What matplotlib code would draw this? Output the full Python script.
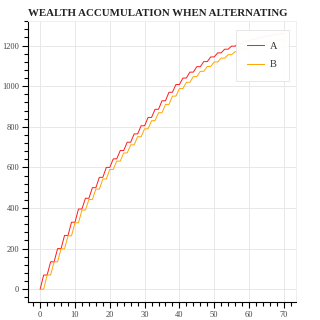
import matplotlib
matplotlib.use('Agg')
import matplotlib.pyplot as plt
from matplotlib.ticker import MultipleLocator
import numpy as np

# Niveles de riqueza: A sube en los pasos impares, B en los pares
a_levels = [70, 135, 200, 265, 330, 395, 448, 500, 551, 600,
            642, 683, 724, 765, 805, 846, 886, 928, 970, 1008,
            1040, 1069, 1096, 1121, 1144, 1164, 1182, 1197, 1210, 1221,
            1231, 1240, 1247, 1253, 1258]
b_levels = [70, 135, 199, 263, 327, 390, 442, 493, 543, 590,
            631, 671, 711, 751, 790, 830, 869, 910, 951, 988,
            1019, 1047, 1073, 1097, 1119, 1138, 1155, 1170, 1183, 1194,
            1204, 1213, 1220, 1226, 1231]
n_steps = 70
title = 'WEALTH ACCUMULATION WHEN ALTERNATING'

steps = np.arange(n_steps + 1)
a_vals = np.concatenate([[0], np.repeat(a_levels, 2)])[:n_steps + 1]
b_vals = np.concatenate([[0, 0], np.repeat(b_levels, 2)])[:n_steps + 1]

plt.rcParams['font.family'] = ['Liberation Serif', 'DejaVu Serif']

fig = plt.figure(figsize=(3.2, 3.2), dpi=100)
ax = fig.add_axes([28 / 320, 18 / 320, 268 / 320, 281 / 320])

ax.plot(steps, a_vals, color='#ff1a1a', lw=0.7, label='A')
ax.plot(steps, b_vals, color='#ffa500', lw=0.7, label='B')
ax.margins(x=0.05, y=0.05)

# Ejes al estilo bokeh
ax.xaxis.set_major_locator(MultipleLocator(10))
ax.xaxis.set_minor_locator(MultipleLocator(2))
ax.yaxis.set_major_locator(MultipleLocator(200))
ax.yaxis.set_minor_locator(MultipleLocator(40))
ax.grid(True, which='major', color='#e8e8e8', lw=0.7)
ax.set_axisbelow(True)
for side in ['top', 'right']:
    ax.spines[side].set_color('#eeeeee')
    ax.spines[side].set_linewidth(0.7)
for side in ['left', 'bottom']:
    ax.spines[side].set_color('black')
    ax.spines[side].set_linewidth(0.8)
ax.tick_params(which='major', direction='out', length=4.3, width=0.8,
               labelsize=6, labelcolor='#444444', pad=2)
ax.tick_params(which='minor', direction='out', length=2.9, width=0.8)

leg = ax.legend(loc='upper right', bbox_to_anchor=(0.974, 0.968),
                borderaxespad=0, fontsize=7.5, handlelength=1.6,
                handletextpad=0.6, labelspacing=0.9, borderpad=1.1,
                fancybox=False, framealpha=0.95, edgecolor='#e5e5e5')
leg.get_frame().set_linewidth(0.7)
for t in leg.get_texts():
    t.set_color('#333333')

fig.text(28 / 320, 1 - 13 / 320, title, ha='left', va='center',
         fontsize=7.8, fontweight='bold', color='#222222')

fig.savefig('out.png', dpi=100, facecolor='white')
